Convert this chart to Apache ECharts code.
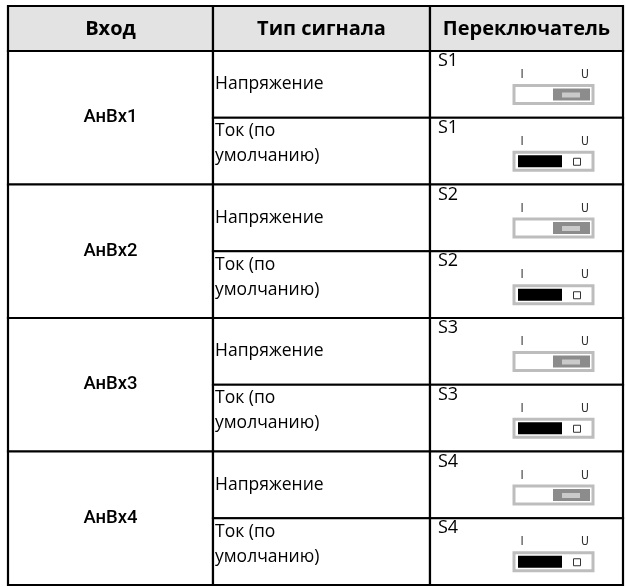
<!DOCTYPE html>
<html><head><meta charset="utf-8">
<script src="https://cdn.jsdelivr.net/npm/echarts@6/dist/echarts.min.js"></script>
<style>html,body{margin:0;padding:0;background:#fff}#c{width:626px;height:587px}</style>
</head><body><div id="c"></div>
<script>
// ---- table content ----
const headers = ['Вход', 'Тип сигнала', 'Переключатель'];
const inputs = ['АнВх1', 'АнВх2', 'АнВх3', 'АнВх4'];
const signalTypes = ['Напряжение', 'Ток (по\nумолчанию)'];
const switches = ['S1', 'S2', 'S3', 'S4'];
const switchPositions = ['U', 'I'];   // voltage -> U side, current (default) -> I side
const switchEndLabels = ['I', 'U'];

// ---- layout (axis units) ----
const colEdges = [0, 205, 422, 615];
const headerH = 45 / 66.75;

const cells = [];
headers.forEach((t, c) => cells.push({kind: 'header', col: c, y0: -headerH, y1: 0, text: t}));
inputs.forEach((t, g) => {
  cells.push({kind: 'input', col: 0, y0: 2 * g, y1: 2 * g + 2, text: t});
  signalTypes.forEach((s, k) => {
    cells.push({kind: 'type', col: 1, y0: 2 * g + k, y1: 2 * g + k + 1, text: s, k: k});
    cells.push({kind: 'switch', col: 2, y0: 2 * g + k, y1: 2 * g + k + 1, text: switches[g], pos: switchPositions[k]});
  });
});
const data = cells.map((c, i) => [colEdges[c.col], colEdges[c.col + 1], c.y0, c.y1, i]);

const bodyFont = '"Open Sans", "Noto Sans", sans-serif';

function switchIcon(x, y, pos) {
  const ch = [];
  const lf = '12px "DejaVu Sans Condensed", sans-serif';
  ch.push({type: 'text', style: {x: x + 92, y: y + 24, text: switchEndLabels[0], align: 'center', verticalAlign: 'middle', font: lf, fill: '#333'}});
  ch.push({type: 'text', style: {x: x + 155, y: y + 24, text: switchEndLabels[1], align: 'center', verticalAlign: 'middle', font: lf, fill: '#333'}});
  ch.push({type: 'rect', shape: {x: x + 84, y: y + 34.5, width: 79, height: 18}, style: {fill: '#fff', stroke: '#bdbdbd', lineWidth: 3}});
  if (pos === 'U') {
    ch.push({type: 'rect', shape: {x: x + 123, y: y + 37.5, width: 37, height: 12}, style: {fill: '#8c8c8c'}});
    ch.push({type: 'rect', shape: {x: x + 132, y: y + 41.5, width: 18, height: 5}, style: {fill: '#cacaca'}});
  } else {
    ch.push({type: 'rect', shape: {x: x + 88, y: y + 37.5, width: 44, height: 12}, style: {fill: '#000'}});
    ch.push({type: 'rect', shape: {x: x + 143.5, y: y + 40.5, width: 7, height: 7}, style: {fill: '#fff', stroke: '#333', lineWidth: 1}});
  }
  return ch;
}

function renderItem(params, api) {
  const cell = cells[api.value(4)];
  const p0 = api.coord([api.value(0), api.value(2)]);
  const p1 = api.coord([api.value(1), api.value(3)]);
  const x = p0[0], y = p0[1], w = p1[0] - p0[0], h = p1[1] - p0[1];
  const children = [{
    type: 'rect', shape: {x: x, y: y, width: w, height: h},
    style: {fill: cell.kind === 'header' ? '#e3e3e3' : '#fff', stroke: '#000', lineWidth: 2.2}
  }];
  if (cell.kind === 'header') {
    children.push({type: 'text', style: {x: x + w / 2, y: y + h / 2 + 1, text: cell.text, align: 'center', verticalAlign: 'middle', font: 'bold 20px ' + bodyFont, fill: '#000'}});
  } else if (cell.kind === 'input') {
    children.push({type: 'text', style: {x: x + w / 2, y: y + h / 2, text: cell.text, align: 'center', verticalAlign: 'middle', font: '500 18.5px Roboto, sans-serif', fill: '#000'}});
  } else if (cell.kind === 'type') {
    if (cell.k === 0) {
      children.push({type: 'text', style: {x: x + 2, y: y + h / 2, text: cell.text, align: 'left', verticalAlign: 'middle', font: '17.5px ' + bodyFont, fill: '#000'}});
    } else {
      children.push({type: 'text', style: {x: x + 2, y: y + 1, text: cell.text, align: 'left', verticalAlign: 'top', lineHeight: 25, font: '17.5px ' + bodyFont, fill: '#000'}});
    }
  } else {
    children.push({type: 'text', style: {x: x + 8, y: y + 1, text: cell.text, align: 'left', verticalAlign: 'top', font: '18px ' + bodyFont, fill: '#000'}});
    switchIcon(x, y, cell.pos).forEach(c => children.push(c));
  }
  return {type: 'group', children: children};
}

const chart = echarts.init(document.getElementById('c'), null, {renderer: 'canvas'});
chart.setOption({
  animation: false,
  backgroundColor: '#fff',
  grid: {left: 8, top: 6, right: 3, bottom: 2},
  xAxis: {type: 'value', min: 0, max: 615, show: false},
  yAxis: {type: 'value', inverse: true, min: -headerH, max: 8, show: false},
  series: [{
    type: 'custom',
    renderItem: renderItem,
    encode: {x: [0, 1], y: [2, 3]},
    data: data,
    clip: false
  }]
});
</script>
</body></html>
